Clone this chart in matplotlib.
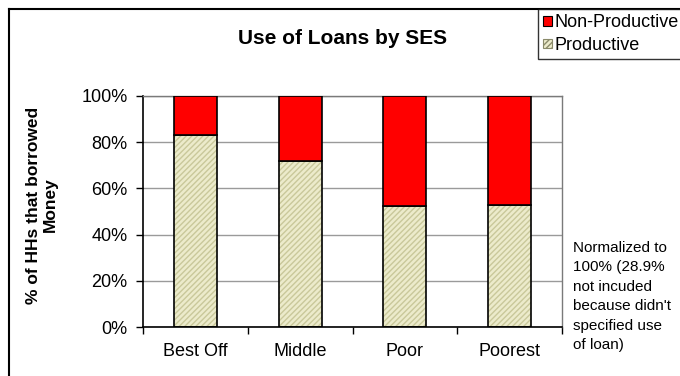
import matplotlib
matplotlib.use("Agg")
import matplotlib.pyplot as plt
from matplotlib.patches import Patch
from matplotlib.lines import Line2D
import numpy as np

plt.rcParams['font.family'] = ['Liberation Sans', 'DejaVu Sans']

# Loan use by socio-economic status (normalized to 100%)
groups = ["Best Off", "Middle", "Poor", "Poorest"]
productive = [83, 72, 52.5, 53]
non_productive = [100 - p for p in productive]
yticks = [0, 20, 40, 60, 80, 100]

W, H = 680, 376
fig = plt.figure(figsize=(W / 100, H / 100), dpi=100)

# plot area in pixel units
x0, x1, ytop, ybot = 143, 562, 96, 327
ax = fig.add_axes([x0 / W, 1 - ybot / H, (x1 - x0) / W, (ybot - ytop) / H])

x = np.arange(len(groups))
bw = 0.41
prod_face = "#ecebcb"
prod_hatch = "#c9c89a"

# productive: hatched fill, then black outline on top
ax.bar(x, productive, bw, color=prod_face, edgecolor=prod_hatch, hatch="//////",
       linewidth=0, zorder=2)
ax.bar(x, productive, bw, fill=False, edgecolor="black", linewidth=1.2, zorder=3)
ax.bar(x, non_productive, bw, bottom=productive, color="#ff0000",
       edgecolor="black", linewidth=1.2, zorder=3)

ax.set_xlim(-0.5, len(groups) - 0.5)
ax.set_ylim(0, 100)

ax.set_yticks(yticks)
ax.set_yticklabels([f"{v}%" for v in yticks], fontsize=13)
ax.yaxis.grid(True, color="#9a9a9a", linewidth=1.0, zorder=0)
ax.set_axisbelow(True)

# category ticks sit between the bars
ax.set_xticks(np.arange(len(groups) + 1) - 0.5)
ax.set_xticklabels([])
ax.set_xticks(x, minor=True)
ax.set_xticklabels(groups, minor=True, fontsize=13)
ax.tick_params(axis="x", which="minor", length=0, pad=11.5)
ax.tick_params(axis="x", which="major", direction="out", length=5, width=1)
ax.tick_params(axis="y", direction="out", length=5, width=1, pad=6)

for s in ["left", "bottom"]:
    ax.spines[s].set_color("black")
    ax.spines[s].set_linewidth(1.2)
for s in ["top", "right"]:
    ax.spines[s].set_color("#7a7a7a")
    ax.spines[s].set_linewidth(1.0)

fig.text(42 / W, 1 - 205 / H, "% of HHs that borrowed\nMoney", fontsize=12.5,
         fontweight="bold", rotation=90, ha="center", va="center",
         linespacing=1.1)

fig.text(343 / W, 1 - 39 / H, "Use of Loans by SES", fontsize=15,
         fontweight="bold", ha="center", va="center")

fig.text(573 / W, 1 - 241 / H,
         "Normalized to\n100% (28.9%\nnot incuded\nbecause didn't\nspecified use\nof loan)",
         fontsize=11, ha="left", va="top", linespacing=1.5)

# chart frame
fig.add_artist(Line2D([9 / W, 9 / W], [0, 1 - 9 / H], transform=fig.transFigure,
                      color="black", linewidth=1.5))
fig.add_artist(Line2D([9 / W, 1], [1 - 9 / H, 1 - 9 / H], transform=fig.transFigure,
                      color="black", linewidth=1.5))

handles = [Patch(facecolor="#ff0000", edgecolor="black", linewidth=0.8),
           Patch(facecolor=prod_face, edgecolor="#8a8a6a", hatch="//////", linewidth=0.8)]
leg = fig.legend(handles, ["Non-Productive", "Productive"], loc="upper left",
                 bbox_to_anchor=(538 / W, 1 - 9 / H), fontsize=13, frameon=True,
                 fancybox=False, edgecolor="black", handlelength=0.45,
                 handleheight=0.45, handletextpad=0.15, borderpad=0.3,
                 labelspacing=0.3, borderaxespad=0)
leg.get_frame().set_linewidth(1.0)

fig.savefig("out.png", dpi=100)
